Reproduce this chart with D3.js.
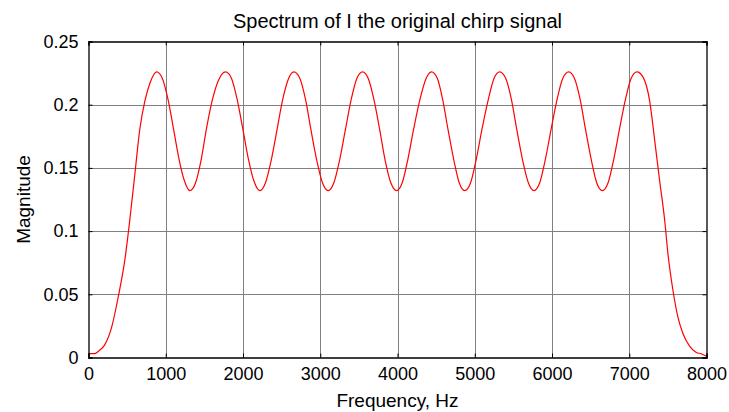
<!DOCTYPE html>
<html>
<head>
<meta charset="utf-8">
<script src="https://cdn.jsdelivr.net/npm/d3@7"></script>
<style>
  body { margin: 0; background: #fff; }
  svg { display: block; font-family: 'Liberation Sans', Arial, sans-serif; }
</style>
</head>
<body>
<svg id="chart"></svg>
<script>
// values
const freqHz = [
  0, 70, 130, 210, 300, 385, 470, 535, 600, 665, 730, 795,
  882, 955, 1030, 1100, 1165, 1235, 1313, 1385, 1460, 1530, 1600, 1680,
  1775, 1850, 1925, 2000, 2070, 2145, 2219, 2290, 2365, 2440, 2510, 2585,
  2659, 2735, 2810, 2880, 2955, 3030, 3103, 3175, 3250, 3325, 3400, 3475,
  3547, 3620, 3695, 3770, 3840, 3915, 3987, 4060, 4135, 4210, 4290, 4365,
  4440, 4515, 4585, 4655, 4730, 4800, 4871, 4945, 5020, 5095, 5175, 5250,
  5323, 5400, 5475, 5545, 5620, 5695, 5767, 5840, 5915, 5990, 6065, 6140,
  6216, 6290, 6365, 6435, 6510, 6580, 6652, 6725, 6800, 6875, 6950, 7025,
  7100, 7177, 7264, 7329, 7393, 7458, 7501, 7566, 7630, 7695, 7781, 7868,
  7930, 8000
]
const magnitude = [
  0.003, 0.003, 0.005, 0.010, 0.024, 0.048, 0.077, 0.109, 0.145, 0.181, 0.203, 0.217,
  0.226, 0.221, 0.204, 0.181, 0.159, 0.141, 0.132, 0.138, 0.157, 0.182, 0.203, 0.219,
  0.226, 0.221, 0.204, 0.180, 0.157, 0.139, 0.132, 0.138, 0.156, 0.180, 0.203, 0.220,
  0.226, 0.221, 0.204, 0.180, 0.156, 0.138, 0.132, 0.138, 0.156, 0.180, 0.204, 0.221,
  0.226, 0.221, 0.204, 0.180, 0.156, 0.138, 0.132, 0.138, 0.157, 0.181, 0.204, 0.220,
  0.226, 0.221, 0.204, 0.180, 0.156, 0.138, 0.132, 0.138, 0.157, 0.181, 0.204, 0.221,
  0.226, 0.221, 0.204, 0.180, 0.156, 0.138, 0.132, 0.138, 0.157, 0.181, 0.204, 0.221,
  0.226, 0.221, 0.204, 0.180, 0.156, 0.138, 0.132, 0.138, 0.157, 0.181, 0.204, 0.221,
  0.226, 0.222, 0.203, 0.172, 0.140, 0.109, 0.082, 0.053, 0.032, 0.019, 0.009, 0.004,
  0.003, 0.001
]
const xTicks = [0, 1000, 2000, 3000, 4000, 5000, 6000, 7000, 8000]
const yTicks = [0, 0.05, 0.1, 0.15, 0.2, 0.25]
const yTickLabels = ['0', '0.05', '0.1', '0.15', '0.2', '0.25']

const titleText = 'Spectrum of I the original chirp signal'
const xLabelText = 'Frequency, Hz'
const yLabelText = 'Magnitude'

const width = 729
const height = 412
const margin = { top: 41.5, right: 22.5, bottom: 54.5, left: 88.5 }

const svg = d3.select('#chart').attr('width', width).attr('height', height)

const x = d3.scaleLinear().domain([0, 8000]).range([margin.left, width - margin.right])
const y = d3.scaleLinear().domain([0, 0.25]).range([height - margin.bottom, margin.top])

// grid
const grid = svg.append('g').attr('stroke', '#808080').attr('stroke-width', 1)
grid
  .selectAll('line.gx')
  .data(xTicks.slice(1, -1))
  .join('line')
  .attr('class', 'gx')
  .attr('x1', (d) => Math.round(x(d)) + 0.5)
  .attr('x2', (d) => Math.round(x(d)) + 0.5)
  .attr('y1', y(0.25))
  .attr('y2', y(0))
grid
  .selectAll('line.gy')
  .data(yTicks.slice(1, -1))
  .join('line')
  .attr('class', 'gy')
  .attr('y1', (d) => Math.round(y(d)) + 0.5)
  .attr('y2', (d) => Math.round(y(d)) + 0.5)
  .attr('x1', x(0))
  .attr('x2', x(8000))

// the spectrum
const points = freqHz.map((f, i) => [f, magnitude[i]])
const line = d3
  .line()
  .x((d) => x(d[0]))
  .y((d) => y(d[1]))
  .curve(d3.curveMonotoneX)

svg
  .append('path')
  .datum(points)
  .attr('fill', 'none')
  .attr('stroke', '#ff0000')
  .attr('stroke-width', 1.2)
  .attr('d', line)

// axes, ticks inside like matlab
const tickLen = 4
const xAxis = d3.axisBottom(x).tickValues(xTicks).tickSize(-tickLen).tickPadding(10).tickFormat(d3.format('d'))
const xAxisTop = d3.axisTop(x).tickValues(xTicks).tickSize(-tickLen).tickFormat('')
const yAxis = d3
  .axisLeft(y)
  .tickValues(yTicks)
  .tickSize(-tickLen)
  .tickPadding(10)
  .tickFormat((d, i) => yTickLabels[i])
const yAxisRight = d3.axisRight(y).tickValues(yTicks).tickSize(-tickLen).tickFormat('')

const styleAxis = (g) => {
  g.select('.domain').attr('stroke', '#000').attr('stroke-width', 1.3)
  g.selectAll('.tick line').attr('stroke', '#000')
  g.selectAll('.tick text').attr('fill', '#000').style('font-size', '18px')
}

svg.append('g').attr('transform', `translate(0,${y(0)})`).call(xAxis).call(styleAxis)
svg.append('g').attr('transform', `translate(0,${y(0.25)})`).call(xAxisTop).call(styleAxis)
svg.append('g').attr('transform', `translate(${x(0)},0)`).call(yAxis).call(styleAxis)
svg.append('g').attr('transform', `translate(${x(8000)},0)`).call(yAxisRight).call(styleAxis)

// title and labels
svg
  .append('text')
  .attr('x', (x(0) + x(8000)) / 2)
  .attr('y', 28)
  .attr('text-anchor', 'middle')
  .style('font-size', '20px')
  .text(titleText)

svg
  .append('text')
  .attr('x', (x(0) + x(8000)) / 2)
  .attr('y', 407)
  .attr('text-anchor', 'middle')
  .style('font-size', '19px')
  .text(xLabelText)

svg
  .append('text')
  .attr('transform', `translate(30,${(y(0) + y(0.25)) / 2}) rotate(-90)`)
  .attr('text-anchor', 'middle')
  .style('font-size', '19px')
  .text(yLabelText)
</script>
</body>
</html>
